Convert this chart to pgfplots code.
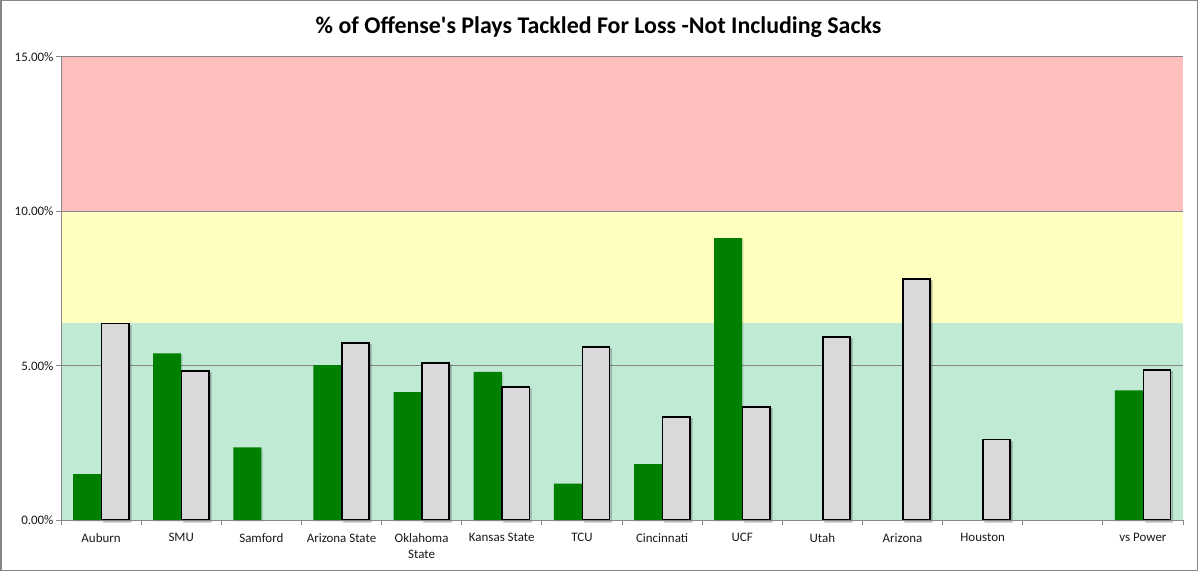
\documentclass[border=0pt]{standalone}
\usepackage{fontspec}
\setmainfont{Carlito}
\usepackage{pgfplots}
\pgfplotsset{compat=1.18}
\usetikzlibrary{shadows}
\definecolor{bandred}{HTML}{FFBFBF}
\definecolor{bandyellow}{HTML}{FFFFC0}
\definecolor{bandgreen}{HTML}{C0EAD4}
\definecolor{bargreen}{HTML}{008000}
\definecolor{bargray}{HTML}{D9D9D9}
\definecolor{gridgray}{HTML}{868686}
\begin{document}
\begin{tikzpicture}
\path[use as bounding box] (0bp,0bp) rectangle (1198bp,571bp);
\draw[gridgray, line width=1.5bp] (0.75bp,0.75bp) rectangle (1197.25bp,570.25bp);
\node[font=\fontsize{24}{28}\selectfont\bfseries] at (598.5bp,544bp) {\% of Offense\textquotesingle s Plays Tackled For Loss -Not Including Sacks};
\begin{axis}[
  at={(61bp,51bp)}, anchor=south west,
  scale only axis, width=1122bp, height=463bp,
  xmin=-0.5, xmax=13.5, ymin=0, ymax=15,
  axis x line*=bottom, axis y line*=left,
  axis line style={gridgray, line width=1bp},
  axis on top,
  xtick={0,...,13},
  xticklabels={Auburn,SMU,Samford,Arizona State,{Oklahoma\\State},Kansas State,TCU,Cincinnati,UCF,Utah,Arizona,Houston,{},vs Power},
  xtick style={draw=none},
  x tick label style={align=center, font=\fontsize{13}{16}\selectfont, text=black!90, yshift=-5bp},
  ytick={0,5,10,15},
  yticklabels={0.00\%,5.00\%,10.00\%,15.00\%},
  y tick label style={font=\fontsize{13}{15}\selectfont, text=black!90, xshift=1bp},
  ytick style={gridgray, line width=1bp},
  tick align=outside, major tick length=5bp,
  /pgf/number format/assume math mode=true,
  clip=false,
]
\fill[bandgreen] (axis cs:-0.5,0) rectangle (axis cs:13.5,6.37);
\fill[bandyellow] (axis cs:-0.5,6.37) rectangle (axis cs:13.5,10);
\fill[bandred] (axis cs:-0.5,10) rectangle (axis cs:13.5,15);
\draw[gridgray, line width=1bp] (axis cs:-0.5,5) -- (axis cs:13.5,5);
\draw[gridgray, line width=1bp] (axis cs:-0.5,10) -- (axis cs:13.5,10);
\draw[gridgray, line width=1bp] (axis cs:-0.5,15) -- (axis cs:13.5,15);
\pgfplotsinvokeforeach{-0.5,0.5,1.5,2.5,3.5,4.5,5.5,6.5,7.5,8.5,9.5,10.5,11.5,12.5,13.5}{
  \draw[gridgray, line width=1bp] (axis cs:#1,0) -- ([yshift=-5bp]axis cs:#1,0);
}
\addplot[ybar, bar width=0.35, bar shift=-0.175, fill=bargreen, draw=none,
  drop shadow={shadow xshift=1.5bp, shadow yshift=-1.5bp, fill=black, opacity=0.12}]
  coordinates {(0,1.49)(1,5.40)(2,2.35)(3,5.02)(4,4.14)(5,4.80)(6,1.18)(7,1.81)(8,9.13)(13,4.20)};
\addplot[ybar, bar width=0.34, bar shift=0.175, fill=bargray, draw=black, line width=1.6bp,
  drop shadow={shadow xshift=2bp, shadow yshift=-2bp, fill=black, opacity=0.15}]
  coordinates {(0,6.37)(1,4.83)(3,5.73)(4,5.08)(5,4.30)(6,5.60)(7,3.33)(8,3.66)(9,5.92)(10,7.81)(11,2.61)(13,4.86)};
\end{axis}
\end{tikzpicture}
\end{document}
